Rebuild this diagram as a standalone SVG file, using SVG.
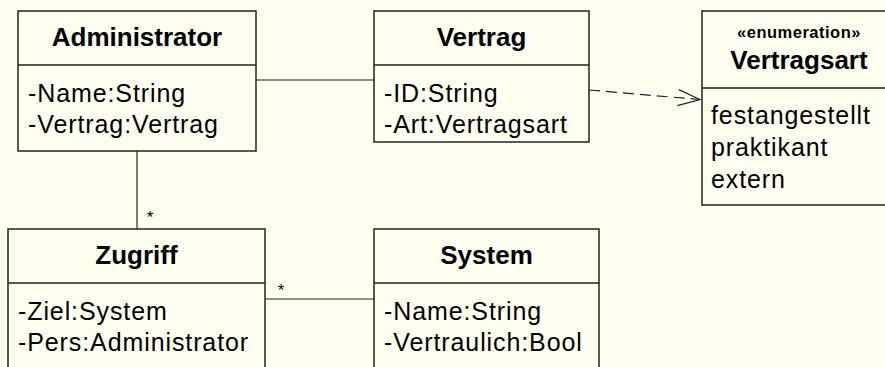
<svg xmlns="http://www.w3.org/2000/svg" width="885" height="367" viewBox="0 0 885 367">
  <style>
    .box { fill: #FFFFF0; stroke: #222; stroke-width: 1.5; }
    .div { stroke: #222; stroke-width: 1.5; }
    .title { font-family: "Liberation Sans", Arial, Helvetica, sans-serif; font-weight: bold; font-size: 26px; fill: #000; text-anchor: middle; }
    .stereo { font-family: "Liberation Sans", Arial, Helvetica, sans-serif; font-weight: bold; font-size: 16.5px; letter-spacing: 0.5px; fill: #000; text-anchor: middle; }
    .attr { font-family: "Liberation Sans", Arial, Helvetica, sans-serif; font-size: 25px; letter-spacing: 0.9px; fill: #000; }
    .mult { font-family: "Liberation Sans", Arial, Helvetica, sans-serif; font-size: 17px; fill: #000; text-anchor: middle; }
    .conn { stroke: #222; stroke-width: 1.2; fill: none; }
    .dash { stroke: #222; stroke-width: 1.2; fill: none; stroke-dasharray: 11 6; }
  </style>
  <defs>
    <marker id="open" markerWidth="26" markerHeight="20" refX="24" refY="10" orient="auto" markerUnits="userSpaceOnUse">
      <path d="M2,2 L24,10 L2,18" fill="none" stroke="#222" stroke-width="1.2"/>
    </marker>
  </defs>
  <rect x="0" y="0" width="885" height="367" fill="#FFFFF0"/>

  <g id="connectors">
    <line class="conn" x1="256" y1="80" x2="374" y2="80"/>
    <line class="conn" x1="137" y1="151" x2="137" y2="229"/>
    <text class="mult" x="150" y="223">*</text>
    <line class="conn" x1="265" y1="299" x2="374" y2="299"/>
    <text class="mult" x="281" y="296">*</text>
    <path class="dash" d="M589,90 L700,99.5" marker-end="url(#open)"/>
  </g>

  <g id="Administrator">
    <rect class="box" x="18" y="11" width="238" height="140"/>
    <line class="div" x1="18" y1="65" x2="256" y2="65"/>
    <text class="title" x="137" y="46">Administrator</text>
    <text class="attr" x="28" y="102">-Name:String</text>
    <text class="attr" x="28" y="133">-Vertrag:Vertrag</text>
  </g>

  <g id="Vertrag">
    <rect class="box" x="374" y="11" width="215" height="131"/>
    <line class="div" x1="374" y1="65" x2="589" y2="65"/>
    <text class="title" x="481.5" y="46">Vertrag</text>
    <text class="attr" x="384" y="102">-ID:String</text>
    <text class="attr" x="384" y="133">-Art:Vertragsart</text>
  </g>

  <g id="Vertragsart">
    <rect class="box" x="702" y="11" width="190" height="194"/>
    <line class="div" x1="702" y1="88" x2="892" y2="88"/>
    <text class="stereo" x="799" y="38">«enumeration»</text>
    <text class="title" x="799" y="69">Vertragsart</text>
    <text class="attr" x="711" y="124">festangestellt</text>
    <text class="attr" x="711" y="156">praktikant</text>
    <text class="attr" x="711" y="188">extern</text>
  </g>

  <g id="Zugriff">
    <rect class="box" x="8" y="229" width="257" height="160"/>
    <line class="div" x1="8" y1="283" x2="265" y2="283"/>
    <text class="title" x="136.5" y="264">Zugriff</text>
    <text class="attr" x="18" y="320">-Ziel:System</text>
    <text class="attr" x="18" y="351">-Pers:Administrator</text>
  </g>

  <g id="System">
    <rect class="box" x="374" y="229" width="225" height="160"/>
    <line class="div" x1="374" y1="283" x2="599" y2="283"/>
    <text class="title" x="486.5" y="264">System</text>
    <text class="attr" x="384" y="320">-Name:String</text>
    <text class="attr" x="384" y="351">-Vertraulich:Bool</text>
  </g>
</svg>
